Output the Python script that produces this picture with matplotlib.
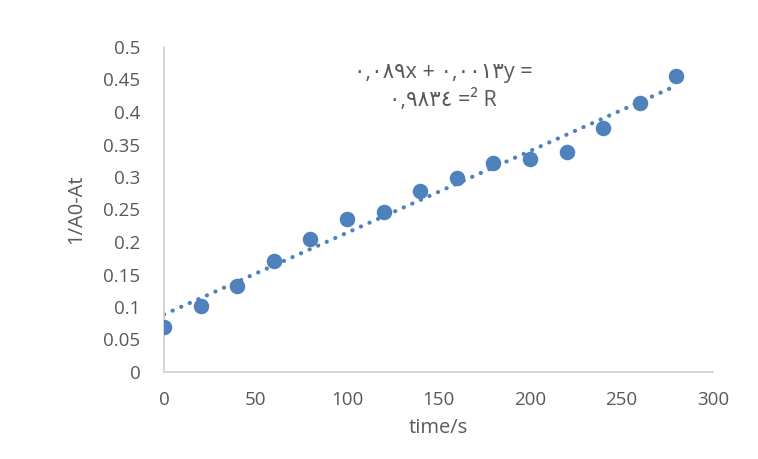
import matplotlib
matplotlib.use('Agg')
import matplotlib.pyplot as plt
import numpy as np

plt.rcParams['font.family'] = ['Open Sans', 'DejaVu Sans']

# data
time_s = [0, 20, 40, 60, 80, 100, 120, 140, 160, 180, 200, 220, 240, 260, 280]
inv_abs = [0.069, 0.102, 0.133, 0.171, 0.205, 0.235, 0.246, 0.279, 0.298,
           0.321, 0.327, 0.338, 0.375, 0.414, 0.455]
x_ticks = [0, 50, 100, 150, 200, 250, 300]
y_ticks = [0, 0.05, 0.1, 0.15, 0.2, 0.25, 0.3, 0.35, 0.4, 0.45, 0.5]
eq_line1 = '\u0660,\u0660\u0668\u0669x + \u0660,\u0660\u0660\u0661\u0663y ='
eq_line2 = '\u0660,\u0669\u0668\u0663\u0664 =\u00b2 R'

blue = '#4f81bd'
grey = '#595959'

fig = plt.figure(figsize=(7.58, 4.59), dpi=100)
ax = fig.add_axes([164 / 758, 1 - 372 / 459, (713 - 164) / 758, (372 - 47) / 459])

# linear trendline from the data
slope, intercept = np.polyfit(time_s, inv_abs, 1)
xt = np.array([time_s[0], time_s[-1]])
ax.plot(xt, slope * xt + intercept, color=blue, linestyle=(0, (0.05, 2.2)),
        linewidth=3.0, dash_capstyle='round', zorder=2)
ax.scatter(time_s, inv_abs, s=125, color=blue, zorder=3, linewidths=0)

ax.set_xlim(0, 300)
ax.set_ylim(0, 0.5)
ax.set_xticks(x_ticks)
ax.set_xticklabels([str(v) for v in x_ticks])
ax.set_yticks(y_ticks)
ax.set_yticklabels(['0', '0.05', '0.1', '0.15', '0.2', '0.25', '0.3', '0.35', '0.4', '0.45', '0.5'])
ax.tick_params(length=0, labelsize=13.5, labelcolor=grey)
ax.tick_params(axis='y', pad=17)
ax.tick_params(axis='x', pad=14)

for s in ['top', 'right']:
    ax.spines[s].set_visible(False)
for s in ['left', 'bottom']:
    ax.spines[s].set_color('#d0d0d0')
    ax.spines[s].set_linewidth(1.2)

ax.set_xlabel('time/s', fontsize=14.5, color=grey, labelpad=6)
ax.set_ylabel('1/A0-At', fontsize=14.5, color=grey, labelpad=12)

ax.text(0.508, 0.923, eq_line1, transform=ax.transAxes, ha='center', va='center',
        fontsize=15.5, color=grey)
ax.text(0.508, 0.837, eq_line2, transform=ax.transAxes, ha='center', va='center',
        fontsize=15.5, color=grey)

fig.savefig('out.png', dpi=100)
